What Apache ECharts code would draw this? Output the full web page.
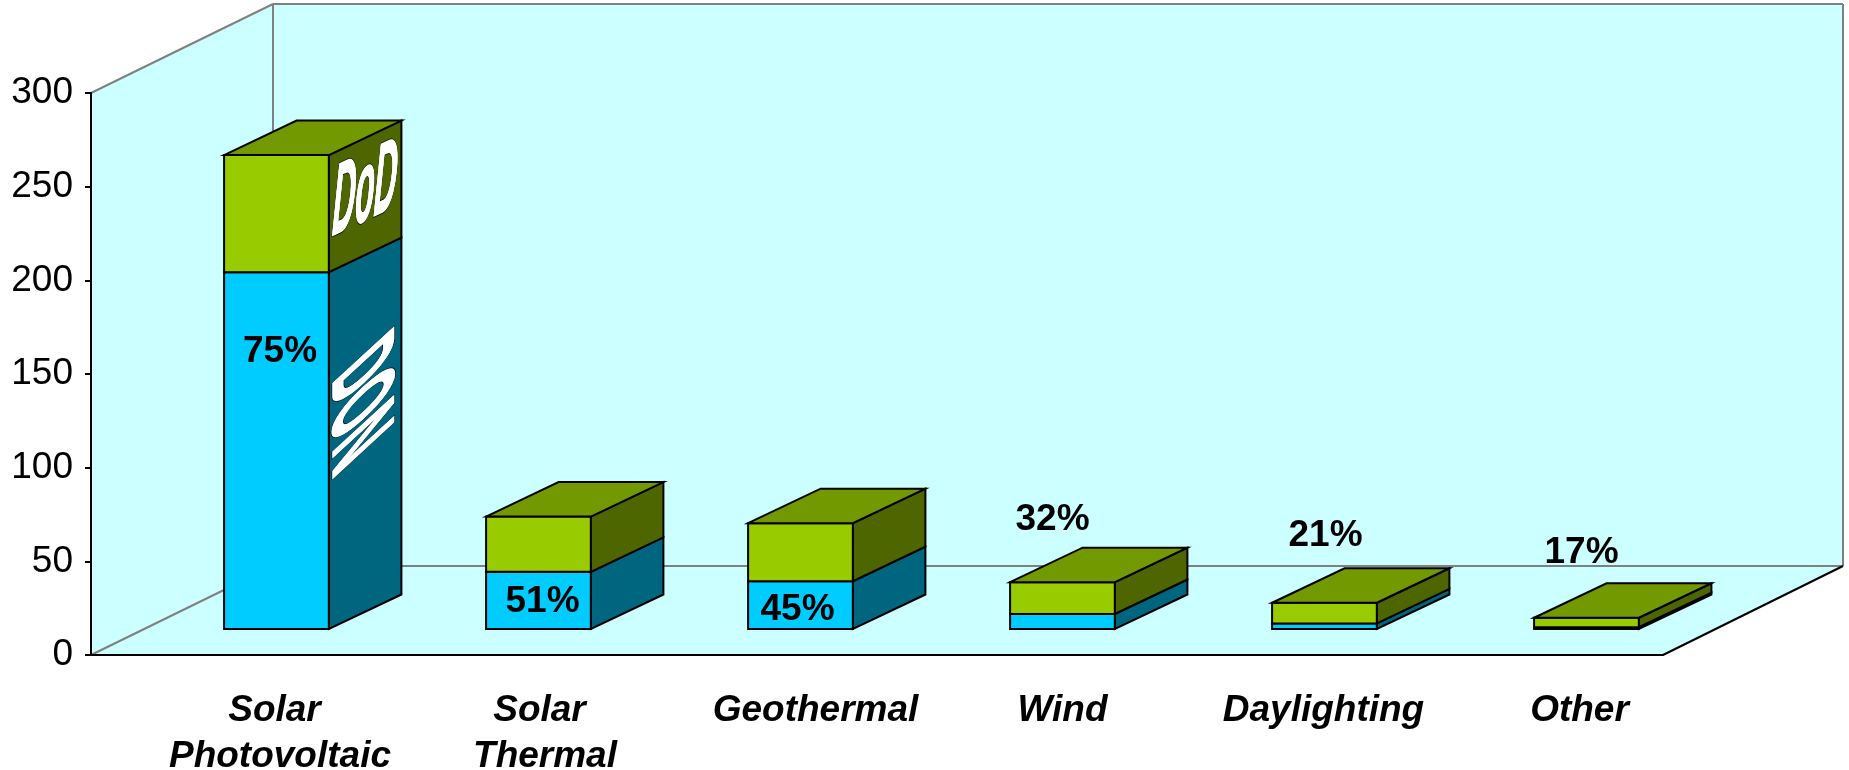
<!DOCTYPE html>
<html>
<head>
<meta charset="utf-8">
<style>html,body{margin:0;padding:0;background:#fff}#main{width:1849px;height:770px}</style>
<script src="https://cdn.jsdelivr.net/npm/echarts@6/dist/echarts.min.js"></script>
</head>
<body>
<div id="main"></div>
<script>
// Renewable energy projects by technology, split between DoN and DoD
const categories = ['Solar\nPhotovoltaic', 'Solar\nThermal', 'Geothermal', 'Wind', 'Daylighting', 'Other'];
const donValues = [190.5, 30.5, 25.5, 8, 3, 1];
const dodValues = [62.5, 29.5, 31, 17, 11, 5];
const sharePercent = ['75%', '51%', '45%', '32%', '21%', '17%'];
const yTicks = { min: 0, max: 300, interval: 50 };

// Pseudo-3D box geometry, in pixels
const FLOOR_DX = 182, FLOOR_DY = -89;     // depth of the chart box
const BAR_DX = 72.5, BAR_DY = -34.5;      // depth of each bar
const BAR_SHIFT_X = 54.5, BAR_SHIFT_Y = -26; // bars stand partway into the floor
const WALL_RIGHT_DX = 180;

// Placement of the share labels relative to the top centre of each bar's front face
const shareOffset = [[3.5, 196.5], [4, 85.5], [-3, 87], [-10, -62.5], [1, -66.5], [-5, -64.5]];
// Per-line horizontal adjustment of the category labels
const labelNudge = [[-2, 3.5], [1, 6.5], [15], [0], [-1], [-7]];

const COLORS = {
  wall: '#CCFFFF', wallEdge: '#808080',
  donFront: '#00CCFF', donSide: '#006680',
  dodFront: '#99CC00', dodSide: '#4D6600', top: '#739900'
};
const FONT = '"Liberation Sans", Arial, sans-serif';

function poly(points, fill, stroke, lineWidth) {
  return { type: 'polygon', shape: { points }, style: { fill, stroke, lineWidth } };
}
function line(a, b, stroke, lineWidth) {
  return { type: 'line', shape: { x1: a[0], y1: a[1], x2: b[0], y2: b[1] }, style: { stroke, lineWidth, fill: null } };
}

// Walls and floor of the chart box, hung off the grid rectangle
function renderBox(params, api) {
  const g = params.coordSys;
  const L = g.x, R = g.x + g.width, T = g.y, B = g.y + g.height;
  const bL = L + FLOOR_DX, bR = R + WALL_RIGHT_DX, bB = B + FLOOR_DY, bT = T + FLOOR_DY;
  return { type: 'group', silent: true, children: [
    poly([[bL, bT], [bR, bT], [bR, bB], [bL, bB]], COLORS.wall),
    poly([[L, T], [bL, bT], [bL, bB], [L, B]], COLORS.wall),
    poly([[L, B], [R, B], [bR, bB], [bL, bB]], COLORS.wall),
    line([L, T], [bL, bT], COLORS.wallEdge, 2),
    line([bL, bT], [bR, bT], COLORS.wallEdge, 2),
    line([bL, bT], [bL, bB], COLORS.wallEdge, 2),
    line([bR, bT], [bR, bB], COLORS.wallEdge, 2),
    line([bL, bB], [bR, bB], COLORS.wallEdge, 2),
    line([L, B], [bL, bB], COLORS.wallEdge, 2),
    line([R, B], [bR, bB], '#000', 2)
  ] };
}

// Text painted onto a bar's side face: a general 2x2 transform expressed as
// nested rotate / scale groups. (ax, ay) is the text's x direction, (cx, cy) its y direction.
// The dark pass sits under a white pass with a white stroke, which fattens the letters.
function skewedText(text, px, py, ax, ay, cx, cy) {
  const E = (ax + cy) / 2, F = (ax - cy) / 2, G = (ay + cx) / 2, H = (ay - cx) / 2;
  const Q = Math.hypot(E, H), S = Math.hypot(F, G);
  const a1 = Math.atan2(G, F), a2 = Math.atan2(H, E);
  const theta = (a2 - a1) / 2, phi = (a2 + a1) / 2;
  const pass = (stroke, lineWidth) => ({
    type: 'text', rotation: -theta,
    style: {
      text, x: 0, y: 0, align: 'center', verticalAlign: 'middle',
      font: 'bold 40px ' + FONT, fill: '#fff', stroke, lineWidth
    }
  });
  return {
    type: 'group', x: px, y: py, rotation: -phi, scaleX: Q + S, scaleY: Q - S,
    children: [pass('#000', 1.3), pass('#fff', 0.7)]
  };
}

// One stacked pseudo-3D bar, positioned through the value and category axes
function renderBar(params, api) {
  const cat = api.value(0), don = api.value(1), dod = api.value(2);
  const base = api.coord([cat, 0]);
  const w = api.size([1, 0])[0] * 0.4;
  const x0 = base[0] + BAR_SHIFT_X - w / 2, x1 = x0 + w;
  const yAt = v => api.coord([cat, v])[1] + BAR_SHIFT_Y;
  const y0 = yAt(0), ySplit = yAt(don), yTop = yAt(don + dod);
  const edge = '#000', lw = 2;
  const dx = BAR_DX, dy = BAR_DY;
  const children = [
    poly([[x0, ySplit], [x1, ySplit], [x1, y0], [x0, y0]], COLORS.donFront, edge, lw),
    poly([[x1, ySplit], [x1 + dx, ySplit + dy], [x1 + dx, y0 + dy], [x1, y0]], COLORS.donSide, edge, lw),
    poly([[x0, yTop], [x1, yTop], [x1, ySplit], [x0, ySplit]], COLORS.dodFront, edge, lw),
    poly([[x1, yTop], [x1 + dx, yTop + dy], [x1 + dx, ySplit + dy], [x1, ySplit]], COLORS.dodSide, edge, lw),
    poly([[x0, yTop], [x0 + dx, yTop + dy], [x1 + dx, yTop + dy], [x1, yTop]], COLORS.top, edge, lw)
  ];
  if (params.dataIndex === 0) {
    const mx = x1 + dx / 2;
    const dodMid = (yTop + ySplit + dy) / 2;
    const donMid = (ySplit + y0 + dy) / 2;
    children.push(skewedText('DoD', mx, dodMid - 3.5, 0.78, -0.365, -0.26, 2.6));
    children.push(skewedText('DON', mx - 8, donMid - 25, 0, 1.14, -2.2, 2.025));
  }
  const off = shareOffset[params.dataIndex];
  children.push({
    type: 'text',
    style: {
      text: sharePercent[params.dataIndex],
      x: (x0 + x1) / 2 + off[0], y: yTop + off[1],
      align: 'center', verticalAlign: 'middle',
      font: 'bold 37px ' + FONT, fill: '#000'
    }
  });
  return { type: 'group', children };
}

// Category label rich styles: the left padding carries each line under its bar
const labelStyles = {};
const labelText = categories.map((name, i) => name.split('\n').map((ln, j) => {
  const key = 'c' + i + 'l' + j;
  labelStyles[key] = {
    fontFamily: FONT, fontSize: 37, fontWeight: 'bold', fontStyle: 'italic', color: '#000',
    lineHeight: 46, padding: [0, 0, 0, 2 * (BAR_SHIFT_X + labelNudge[i][j])]
  };
  return '{' + key + '|' + ln + '}';
}).join('\n'));

const chart = echarts.init(document.getElementById('main'), null, { renderer: 'canvas' });
chart.setOption({
  animation: false,
  tooltip: { show: false },
  grid: { left: 91, right: 186, top: 93, bottom: 115, containLabel: false, outerBoundsMode: 'none' },
  xAxis: {
    type: 'category', data: categories, z: 3,
    axisTick: { show: false },
    axisLine: { show: true, lineStyle: { color: '#000', width: 2 } },
    axisLabel: {
      interval: 0, margin: 32.5, verticalAlign: 'top', rich: labelStyles,
      formatter: (v, i) => labelText[i]
    }
  },
  yAxis: {
    type: 'value', min: yTicks.min, max: yTicks.max, interval: yTicks.interval, z: 3,
    splitLine: { show: false },
    axisLine: { show: true, onZero: false, lineStyle: { color: '#000', width: 2 } },
    axisTick: { show: true, length: 6, lineStyle: { color: '#000', width: 2 } },
    axisLabel: { fontFamily: FONT, fontSize: 37, color: '#000', margin: 18 }
  },
  series: [
    { type: 'custom', name: 'Chart box', z: 1, silent: true, clip: false, data: [[0]], renderItem: renderBox,
      encode: { x: 0 } },
    { type: 'custom', name: 'DoN / DoD', z: 4, silent: true, clip: false,
      data: categories.map((c, i) => [i, donValues[i], dodValues[i]]),
      encode: { x: 0, y: [1, 2] },
      renderItem: renderBar }
  ]
});
</script>
</body>
</html>
